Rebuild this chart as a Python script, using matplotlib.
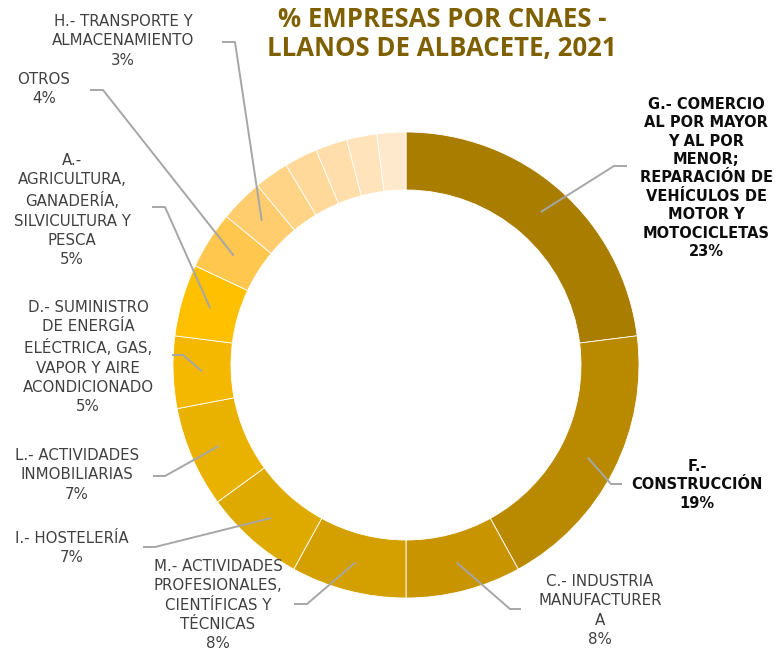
import matplotlib
matplotlib.use("Agg")
import matplotlib.pyplot as plt
import numpy as np

labels = [
    "G.- COMERCIO\nAL POR MAYOR\nY AL POR\nMENOR;\nREPARACIÓN DE\nVEHÍCULOS DE\nMOTOR Y\nMOTOCICLETAS",
    "F.-\nCONSTRUCCIÓN",
    "C.- INDUSTRIA\nMANUFACTURER\nA",
    "M.- ACTIVIDADES\nPROFESIONALES,\nCIENTÍFICAS Y\nTÉCNICAS",
    "I.- HOSTELERÍA",
    "L.- ACTIVIDADES\nINMOBILIARIAS",
    "D.- SUMINISTRO\nDE ENERGÍA\nELÉCTRICA, GAS,\nVAPOR Y AIRE\nACONDICIONADO",
    "A.-\nAGRICULTURA,\nGANADERÍA,\nSILVICULTURA Y\nPESCA",
    "OTROS",
    "H.- TRANSPORTE Y\nALMACENAMIENTO",
    "", "", "", "", "",
]
values = [23, 19, 8, 8, 7, 7, 5, 5, 4, 3, 2.4, 2.3, 2.2, 2.1, 2.0]
pct_labels = ["23%", "19%", "8%", "8%", "7%", "7%", "5%", "5%", "4%", "3%", "", "", "", "", ""]
colors = ["#A87D00", "#B98A00", "#C89500", "#D4A000", "#DFAA00", "#EAB200",
          "#F4B800", "#FFC000", "#FFC74D", "#FFCC6E", "#FFD486", "#FFD999",
          "#FFDEAB", "#FFE4BB", "#FFE9CC"]

W, H = 776, 649
fig = plt.figure(figsize=(W / 100, H / 100), dpi=100)
ax = fig.add_axes([0, 0, 1, 1])

cx, cy = 406, H - 365
R, width = 233, 58
wedges, _ = ax.pie(values, colors=colors, center=(cx, cy), radius=R,
                   startangle=90, counterclock=False,
                   wedgeprops=dict(width=width, edgecolor="white", linewidth=0.6))
ax.set_xlim(0, W)
ax.set_ylim(0, H)
ax.set_aspect("equal")
ax.axis("off")

# label layout: (text x, text top y, elbow x, elbow y, end x, bold)
layout = {
    0: (706, 97, 614, 166, 627, True),
    1: (697, 459, 611, 484, 622, True),
    2: (600, 574, 510, 609, 521, False),
    3: (218, 559, 307, 604, 294, False),
    4: (72, 531, 155, 547, 143, False),
    5: (77, 448, 165, 476, 153, False),
    6: (88, 300, 183, 355, 172, False),
    7: (72, 153, 165, 207, 152, False),
    8: (44, 72, 103, 90, 90, False),
    9: (123, 14, 235, 42, 222, False),
}

for i, (tx, ty, ex, ey, endx, bold) in layout.items():
    w = wedges[i]
    ang = np.deg2rad((w.theta1 + w.theta2) / 2)
    r = R - width / 2
    axp, ayp = cx + r * np.cos(ang), cy + r * np.sin(ang)
    ax.plot([axp, ex, endx], [ayp, H - ey, H - ey], color="#A6A6A6", lw=1.4,
            solid_capstyle="butt", zorder=3)
    txt = labels[i] + "\n" + pct_labels[i]
    if bold:
        ax.text(tx, H - ty, txt, ha="center", va="top", fontsize=10.5,
                fontweight="bold", color="#0D0D0D", family="DejaVu Sans",
                linespacing=1.28)
    else:
        ax.text(tx, H - ty, txt, ha="center", va="top", fontsize=10.8,
                color="#404040", family="DejaVu Sans", linespacing=1.36)

ax.text(442, H - 34, "% EMPRESAS POR CNAES -\nLLANOS DE ALBACETE, 2021",
        ha="center", va="center", fontsize=18.5, fontweight="bold",
        color="#7F6000", family="Open Sans", linespacing=1.08)

fig.savefig("out.png", dpi=100)
